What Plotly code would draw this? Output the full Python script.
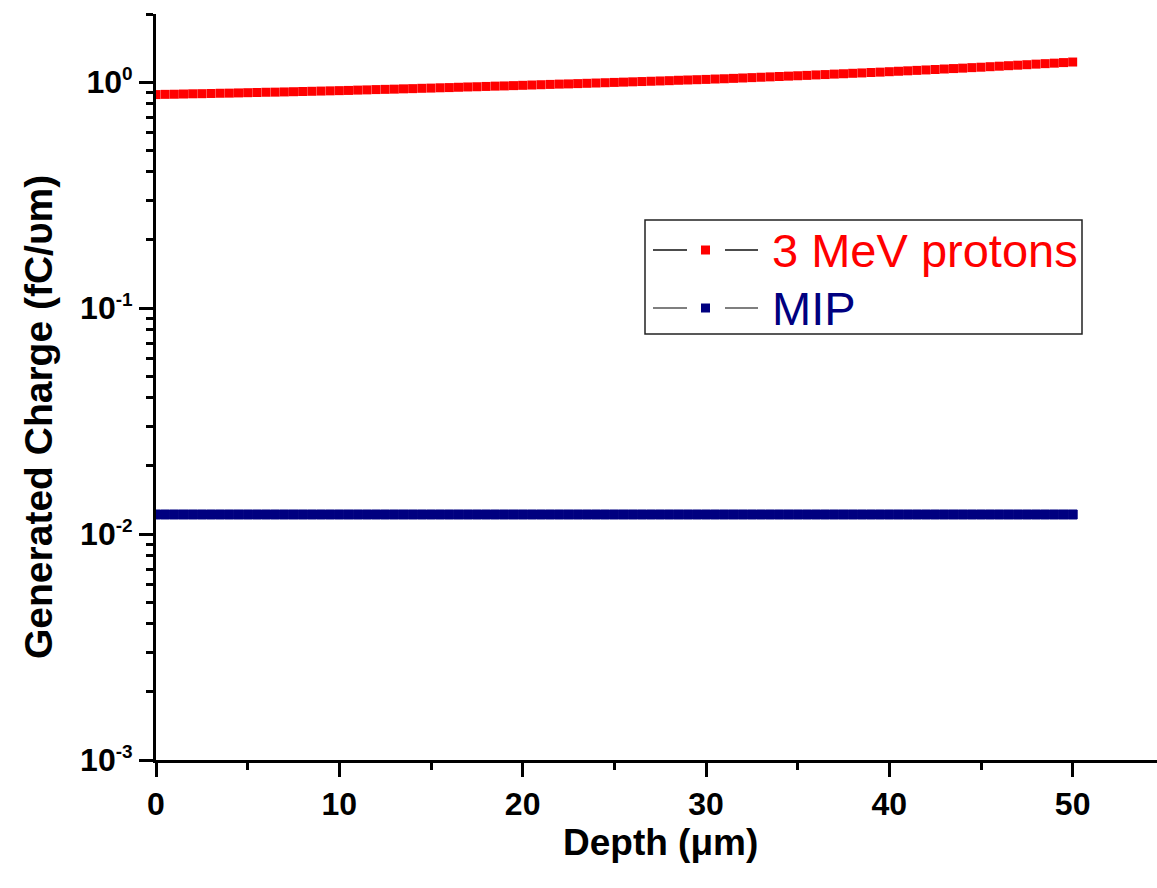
import math
import plotly.graph_objects as go

# ---------------- data ----------------
depth_um = [i * 0.5 for i in range(101)]  # 0 ... 50 um, 0.5 um step

protons_3mev = [
    0.880, 0.882, 0.883, 0.885, 0.887, 0.888, 0.890, 0.892, 0.893, 0.895,
    0.897, 0.899, 0.901, 0.902, 0.904, 0.906, 0.908, 0.910, 0.912, 0.914,
    0.916, 0.918, 0.921, 0.923, 0.926, 0.928, 0.930, 0.933, 0.935, 0.938,
    0.940, 0.943, 0.945, 0.948, 0.951, 0.953, 0.956, 0.959, 0.961, 0.964,
    0.967, 0.970, 0.973, 0.976, 0.979, 0.981, 0.984, 0.987, 0.990, 0.993,
    0.996, 0.999, 1.002, 1.005, 1.008, 1.011, 1.014, 1.018, 1.021, 1.024,
    1.027, 1.031, 1.034, 1.038, 1.042, 1.046, 1.050, 1.054, 1.058, 1.062,
    1.066, 1.070, 1.075, 1.079, 1.084, 1.088, 1.093, 1.097, 1.102, 1.106,
    1.111, 1.116, 1.121, 1.126, 1.131, 1.136, 1.142, 1.147, 1.152, 1.158,
    1.163, 1.169, 1.175, 1.181, 1.187, 1.193, 1.200, 1.206, 1.212, 1.219,
    1.226,
]

mip = [
    0.0122, 0.0122, 0.0122, 0.0122, 0.0122, 0.0122, 0.0122, 0.0122, 0.0122, 0.0122,
    0.0122, 0.0122, 0.0122, 0.0122, 0.0122, 0.0122, 0.0122, 0.0122, 0.0122, 0.0122,
    0.0122, 0.0122, 0.0122, 0.0122, 0.0122, 0.0122, 0.0122, 0.0122, 0.0122, 0.0122,
    0.0122, 0.0122, 0.0122, 0.0122, 0.0122, 0.0122, 0.0122, 0.0122, 0.0122, 0.0122,
    0.0122, 0.0122, 0.0122, 0.0122, 0.0122, 0.0122, 0.0122, 0.0122, 0.0122, 0.0122,
    0.0122, 0.0122, 0.0122, 0.0122, 0.0122, 0.0122, 0.0122, 0.0122, 0.0122, 0.0122,
    0.0122, 0.0122, 0.0122, 0.0122, 0.0122, 0.0122, 0.0122, 0.0122, 0.0122, 0.0122,
    0.0122, 0.0122, 0.0122, 0.0122, 0.0122, 0.0122, 0.0122, 0.0122, 0.0122, 0.0122,
    0.0122, 0.0122, 0.0122, 0.0122, 0.0122, 0.0122, 0.0122, 0.0122, 0.0122, 0.0122,
    0.0122, 0.0122, 0.0122, 0.0122, 0.0122, 0.0122, 0.0122, 0.0122, 0.0122, 0.0122,
    0.0122,
]

series_names = ["3 MeV protons", "MIP"]
series_colors = ["#FF0000", "#000080"]
marker_edge = [0, 1]

x_major_ticks = [0, 10, 20, 30, 40, 50]
x_minor_ticks = [5, 15, 25, 35, 45]
y_major_ticks = [0.001, 0.01, 0.1, 1]
y_major_exps = ["-3", "-2", "-1", "0"]
y_minor_ticks = [m * 10.0 ** e for e in (-3, -2, -1) for m in range(2, 10)] + [2]

x_title = "Depth (μm)"
y_title = "Generated Charge (fC/υm)"

# ---------------- layout geometry ----------------
W, H = 1157, 888
L, R, T, B = 156, 0, 14, 128
PW, PH = W - L - R, H - T - B

def px(xp):
    return (xp - L) / PW

def py(yp):
    return (H - B - yp) / PH

FONT = "Liberation Sans, Arial, sans-serif"

fig = go.Figure()
for name, ys, col, ew in zip(series_names, [protons_3mev, mip], series_colors, marker_edge):
    fig.add_trace(go.Scatter(
        x=depth_um, y=ys, name=name, mode="markers",
        marker=dict(symbol="square", size=9, color=col, line=dict(width=ew, color=col)),
        showlegend=False,
    ))

ticktext = [f"10<sup><span style='font-size:19px'>{e}</span></sup>" for e in y_major_exps]

fig.update_layout(
    width=W, height=H,
    margin=dict(l=L, r=R, t=T, b=B, pad=0),
    paper_bgcolor="white", plot_bgcolor="white",
    font=dict(family=FONT, color="black"),
    xaxis=dict(
        range=[0, 54.6], showgrid=False, zeroline=False,
        showline=True, linecolor="black", linewidth=3,
        ticks="outside", ticklen=14, tickwidth=3, tickcolor="black",
        tickvals=x_major_ticks, ticktext=[f"<b>{v}</b>" for v in x_major_ticks],
        tickfont=dict(size=32, family=FONT, color="black"),
        minor=dict(ticks="outside", ticklen=7, tickwidth=3, tickcolor="black",
                   tickvals=x_minor_ticks, showgrid=False),
    ),
    yaxis=dict(
        type="log", range=[-3, math.log10(2)], showgrid=False, zeroline=False,
        showline=True, linecolor="black", linewidth=3,
        ticks="outside", ticklen=14, tickwidth=3, tickcolor="black",
        tickvals=y_major_ticks, ticktext=[f"<b>{t}</b>" for t in ticktext],
        tickfont=dict(size=32, family=FONT, color="black"),
        minor=dict(ticks="outside", ticklen=7, tickwidth=3, tickcolor="black",
                   tickvals=y_minor_ticks, showgrid=False),
    ),
)

# ---------------- axis titles (placed as in the reference) ----------------
annotations = [
    dict(xref="paper", yref="paper", x=px(660), y=py(842), xanchor="center", yanchor="middle",
         showarrow=False, text=f"<b>{x_title}</b>", font=dict(size=37, family=FONT, color="black")),
    dict(xref="paper", yref="paper", x=px(38), y=py(417), xanchor="center", yanchor="middle",
         showarrow=False, textangle=-90, text=f"<b>{y_title}</b>",
         font=dict(size=39, family=FONT, color="black")),
]

# ---------------- custom legend ----------------
shapes = [dict(type="rect", xref="paper", yref="paper",
               x0=px(645), x1=px(1082), y0=py(334), y1=py(220),
               line=dict(color="#222222", width=1.5), fillcolor="white", layer="above")]
rows_y = [250, 308]
line_cols = ["#111111", "#555555"]
for name, col, ly, lc in zip(series_names, series_colors, rows_y, line_cols):
    for x0, x1 in [(653, 687), (725, 758)]:
        shapes.append(dict(type="line", xref="paper", yref="paper",
                           x0=px(x0), x1=px(x1), y0=py(ly), y1=py(ly),
                           line=dict(color=lc, width=1.5), layer="above"))
    shapes.append(dict(type="rect", xref="paper", yref="paper",
                       x0=px(701), x1=px(710), y0=py(ly + 4.5), y1=py(ly - 4.5),
                       line=dict(width=0), fillcolor=col, layer="above"))
    annotations.append(dict(xref="paper", yref="paper", x=px(770), y=py(ly),
                            xanchor="left", yanchor="middle", showarrow=False,
                            text=name, font=dict(size=47, family=FONT, color=col)))

fig.update_layout(shapes=shapes, annotations=annotations)

fig.write_html("out.html")
